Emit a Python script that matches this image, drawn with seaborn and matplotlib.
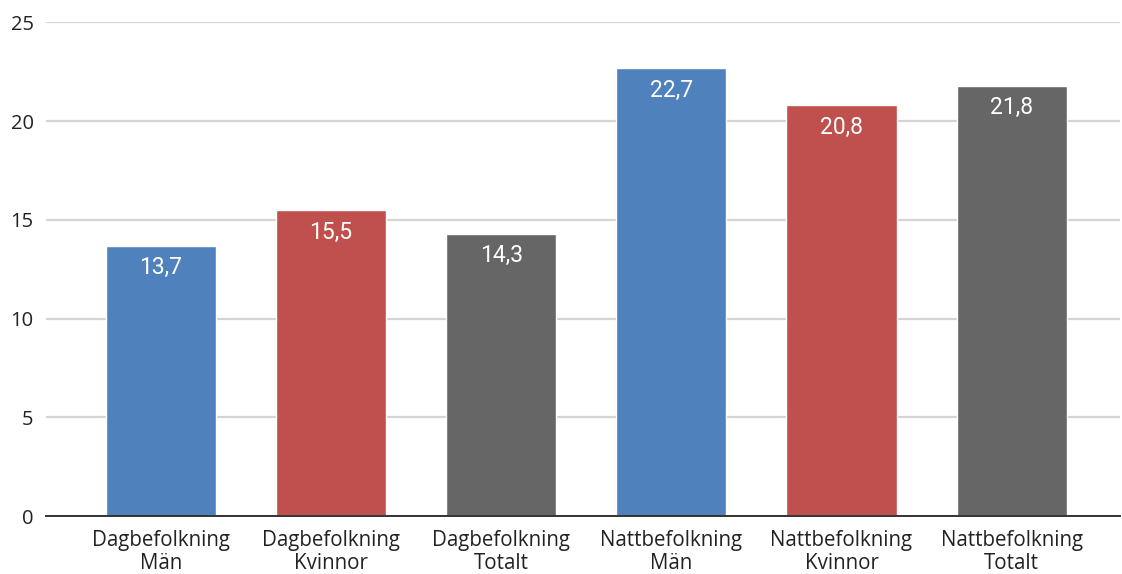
import matplotlib
matplotlib.use("Agg")
import matplotlib.pyplot as plt
import seaborn as sns
import pandas as pd

# Data
categories = [
    "Dagbefolkning\nMän",
    "Dagbefolkning\nKvinnor",
    "Dagbefolkning\nTotalt",
    "Nattbefolkning\nMän",
    "Nattbefolkning\nKvinnor",
    "Nattbefolkning\nTotalt",
]
values = [13.7, 15.5, 14.3, 22.7, 20.8, 21.8]
bar_colors = ["#4f81bd", "#c0504d", "#666666", "#4f81bd", "#c0504d", "#666666"]
y_ticks = [0, 5, 10, 15, 20, 25]

df = pd.DataFrame({"kategori": categories, "värde": values})

sns.set_theme(style="white")
plt.rcParams["font.family"] = ["Open Sans", "DejaVu Sans"]

fig = plt.figure(figsize=(11.22, 5.74), dpi=100)
ax = fig.add_axes([0.041, 0.101, 0.957, 0.860])

sns.barplot(
    data=df, x="kategori", y="värde", hue="kategori",
    palette=bar_colors, legend=False, width=0.648,
    saturation=1, ax=ax, zorder=3,
)

ax.set_xlim(-0.675, 5.635)
ax.set_ylim(0, 25)
ax.set_yticks(y_ticks)
ax.set_yticklabels([str(t) for t in y_ticks])
ax.set_xlabel("")
ax.set_ylabel("")

ax.grid(axis="y", color="#d4d4d4", linewidth=1.6, zorder=0)
ax.grid(axis="x", visible=False)
for side in ["top", "right", "left"]:
    ax.spines[side].set_visible(False)
ax.spines["bottom"].set_color("#333333")
ax.spines["bottom"].set_linewidth(1.4)
ax.spines["bottom"].set_zorder(4)

ax.tick_params(axis="y", length=0, pad=9, labelsize=14.5, labelcolor="#222222")
ax.tick_params(axis="x", length=0, pad=10, labelsize=14.8, labelcolor="#222222")
for lbl in ax.get_xticklabels():
    lbl.set_linespacing(1.15)

# Value labels inside the top of each bar
for i, v in enumerate(values):
    ax.annotate(
        f"{v:.1f}".replace(".", ","),
        xy=(i, v), xytext=(0, -16), textcoords="offset points",
        ha="center", va="center", color="white",
        fontsize=16.5, family=["Roboto", "DejaVu Sans"], zorder=5,
    )

fig.savefig("out.png", dpi=100, facecolor="white")
